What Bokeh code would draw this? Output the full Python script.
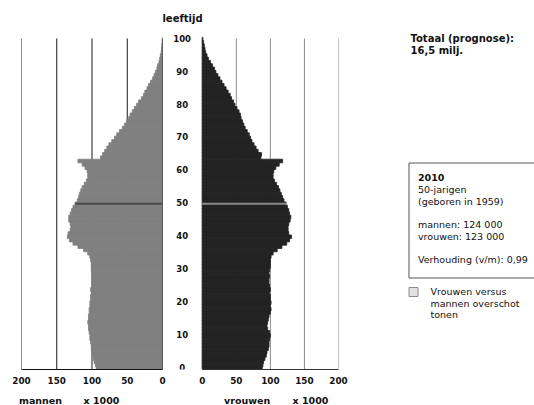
from bokeh.plotting import figure
from bokeh.models import ColumnDataSource, Range1d, FixedTicker, Label, BoxAnnotation
from bokeh.layouts import row, column
from bokeh.embed import file_html
from bokeh.resources import INLINE
from bokeh.core.properties import value

# ---------------- data ----------------
ages = list(range(0, 101))
men = [94, 95, 97, 98, 99, 100, 101, 101, 102, 103,
       103, 104, 105, 105, 106, 105, 105, 104, 104, 103,
       103, 102, 102, 101, 102, 100, 100, 99, 100, 100,
       101, 101, 101, 102, 103, 106, 112, 120, 127, 132,
       135, 134, 131, 130, 131, 133, 133, 131, 129, 127,
       124, 121, 119, 118, 116, 114, 111, 108, 106, 106,
       107, 110, 114, 120, 88, 85, 82, 79, 76, 72,
       68, 65, 61, 57, 54, 51, 48, 46, 43, 40,
       37, 34, 30, 27, 25, 22, 20, 17, 14, 12,
       10, 8, 7, 5, 4, 3, 2, 1.5, 1, 0.6,
       0.4]
women = [88, 89, 90, 92, 94, 95, 97, 98, 98, 99,
         100, 99, 96, 95, 96, 97, 98, 100, 101, 100,
         101, 100, 100, 99, 100, 99, 98, 98, 99, 98,
         99, 100, 100, 100, 101, 104, 110, 117, 124, 128,
         131, 127, 126, 126, 127, 129, 130, 128, 127, 125,
         123, 120, 118, 116, 114, 112, 109, 106, 104, 104,
         105, 108, 113, 118, 86, 87, 82, 79, 76, 73,
         71, 69, 66, 63, 61, 59, 57, 56, 54, 51,
         48, 46, 43, 41, 38, 35, 32, 29, 26, 23,
         20, 18, 15, 12, 9, 7, 5, 4, 3, 2,
         1]
x_ticks = [0, 50, 100, 150, 200]
age_ticks = list(range(0, 101, 10))
age_tick_labels = [str(a) for a in age_ticks]
highlight_age = 50
year = 2010
total_lines = ["Totaal (prognose):", "16,5 milj."]
checkbox_lines = ["Vrouwen versus", "mannen overschot", "tonen"]

# ---------------- style ----------------
FONT = "DejaVu Sans"
TXT = "#111111"
MEN_COLOR = "#808080"
WOMEN_COLOR = "#232323"
MEN_HI = "#4a4a4a"
WOMEN_HI = "#8a8a8a"
AGE_LABEL_X = -29.5   # position of the age column (women scale units)
Y_LOW, Y_TOP, Y_VIEW_TOP = -0.3, 100.2, 102.63
BL = 3.6              # baseline compensation for labels (px)
BAR_H = 1.1

src = ColumnDataSource(dict(age=ages, men=men, women=women))
hi = ColumnDataSource(dict(age=[highlight_age], men=[men[highlight_age]],
                           women=[women[highlight_age]]))
grid_src = ColumnDataSource(dict(x=x_ticks, y0=[Y_LOW] * len(x_ticks),
                                 y1=[Y_TOP] * len(x_ticks)))
zero_src = ColumnDataSource(dict(x=[0], y0=[Y_LOW], y1=[Y_TOP]))


def pyramid(width, bl, br, xr, grid_color, axis_color):
    p = figure(width=width, height=360, x_range=xr, y_range=Range1d(Y_LOW, Y_VIEW_TOP),
               min_border_left=bl, min_border_right=br, min_border_top=0,
               min_border_bottom=21, toolbar_location=None, output_backend="svg",
               title=None, y_axis_location=None)
    p.outline_line_color = None
    p.grid.visible = False
    p.segment(x0="x", y0="y0", x1="x", y1="y1", source=grid_src,
              line_color=grid_color, line_width=1)
    ax = p.xaxis[0]
    ax.ticker = FixedTicker(ticks=x_ticks)
    ax.bounds = (0, 200)
    ax.major_tick_in = 0
    ax.major_tick_out = 0
    ax.minor_tick_line_color = None
    ax.axis_line_color = axis_color
    ax.major_label_standoff = 7
    ax.major_label_text_font = FONT
    ax.major_label_text_font_size = "8.8px"
    ax.major_label_text_font_style = "bold"
    ax.major_label_text_color = TXT
    return p


# men (left)
left = pyramid(166, 21, 4, Range1d(200, 0), "#1a1a1a", "#111111")
left.hbar(y="age", left=0, right="men", height=BAR_H, source=src,
          fill_color=MEN_COLOR, line_color=MEN_COLOR, line_width=0.8)
left.hbar(y="age", left=0, right="men", height=0.6, source=hi,
          fill_color=MEN_HI, line_color=None)
left.segment(x0="x", y0="y0", x1="x", y1="y1", source=zero_src,
             line_color="#333333", line_width=1)

# women (right); its frame also holds the age column
right = pyramid(182, 0, 10, Range1d(-52.5, 200), "#8c8c8c", "#333333")
right.hbar(y="age", left=0, right="women", height=BAR_H, source=src,
           fill_color=WOMEN_COLOR, line_color=WOMEN_COLOR, line_width=0.8)
right.hbar(y="age", left=0, right="women", height=0.6, source=hi,
           fill_color=WOMEN_HI, line_color=None)
right.text(x=AGE_LABEL_X, y=age_ticks, text=age_tick_labels, text_align="center",
           text_baseline="middle", text_font=value(FONT), text_font_size="8.5px",
           text_font_style="bold", text_color=TXT, y_offset=-1)


def plain_fig(width, height, x0, x1, y0, y1):
    f = figure(width=width, height=height, x_range=Range1d(x0, x1), y_range=Range1d(y1, y0),
               min_border=0, toolbar_location=None, output_backend="svg", title=None,
               x_axis_location=None, y_axis_location=None)
    f.grid.visible = False
    f.outline_line_color = None
    return f


def lab(fig, x, y, t, size, style="normal", align="left"):
    fig.add_layout(Label(x=x, y=y - BL, text=t, text_align=align,
                         text_baseline="alphabetic", text_font=FONT,
                         text_font_size=size, text_font_style=style, text_color=TXT))


# top strip with axis title
strip = plain_fig(348, 30, 0, 348, 0, 30)
lab(strip, 182, 21.3, "leeftijd", "10px", "bold", "center")

# bottom strip with the unit labels
bottom = plain_fig(348, 15, 0, 348, 390, 405)
for txt, xo in (("mannen", 18.5), ("x 1000", 83), ("vrouwen", 223.5), ("x 1000", 292)):
    lab(bottom, xo, 403.5, txt, "9.5px", "bold")

# info panel
info = plain_fig(186, 405, 348, 534, 0, 405)

lab(info, 410, 42, total_lines[0], "10px", "bold")
lab(info, 410, 54, total_lines[1], "10px", "bold")

info.add_layout(BoxAnnotation(left=408.5, right=570, top=162.5, bottom=277.5,
                              fill_color=None, line_color="#555555", line_alpha=1,
                              line_width=1))
m_hi = men[highlight_age]
w_hi = women[highlight_age]
ratio = f"{w_hi / m_hi:.2f}".replace(".", ",")
box_lines = [
    (181.0, str(year), "bold"),
    (192.7, f"{highlight_age}-jarigen", "normal"),
    (204.4, f"(geboren in {year - highlight_age - 1})", "normal"),
    (227.8, f"mannen: {int(m_hi)} 000", "normal"),
    (239.5, f"vrouwen: {int(w_hi)} 000", "normal"),
    (263.0, f"Verhouding (v/m): {ratio}", "normal"),
]
for y, t, st in box_lines:
    lab(info, 417.5, y, t, "9.5px", st)

info.add_layout(BoxAnnotation(left=408.5, right=417.5, top=287, bottom=296,
                              fill_color="#e2e2e2", fill_alpha=1, line_color="#8a8a8a",
                              line_alpha=1, line_width=1))
for y, t in zip((295, 306.5, 318), checkbox_lines):
    lab(info, 430, y, t, "9.5px")

layout = row(column(strip, row(left, right), bottom), info)
open("out.html", "w").write(file_html(layout, INLINE))
